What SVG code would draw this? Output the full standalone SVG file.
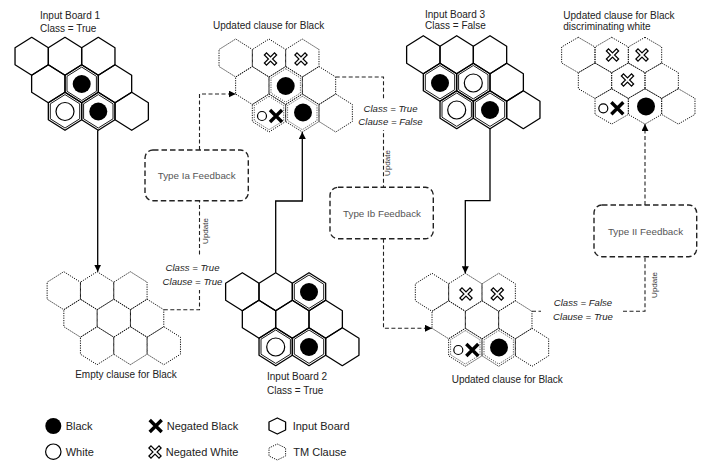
<svg xmlns="http://www.w3.org/2000/svg" width="718" height="462" viewBox="0 0 718 462">
<style>
.hs{fill:none;stroke:#000;stroke-width:1.3;stroke-linejoin:round}
.hi{fill:none;stroke:#000;stroke-width:0.9}
.hd{fill:none;stroke:#111;stroke-width:1;stroke-dasharray:1.2 1.2}
.hdi{fill:none;stroke:#111;stroke-width:0.7;stroke-dasharray:1.2 1.2}
.bk{fill:#000}
.wh{fill:#fff;stroke:#000;stroke-width:1.2}
.lbl{font-family:"Liberation Sans",Arial,sans-serif;font-size:10px;fill:#222}
.it{font-family:"Liberation Sans",Arial,sans-serif;font-size:9.6px;font-style:italic;fill:#222;text-anchor:middle}
.upd{font-family:"Liberation Sans",Arial,sans-serif;font-size:8px;fill:#333;text-anchor:middle}
.fbt{font-family:"Liberation Sans",Arial,sans-serif;font-size:9.8px;fill:#555;text-anchor:middle}
.leg{font-family:"Liberation Sans",Arial,sans-serif;font-size:11px;fill:#222}
.solid{fill:none;stroke:#000;stroke-width:1.3}
.dash{fill:none;stroke:#222;stroke-width:1.1;stroke-dasharray:4 2.5}
.box{fill:none;stroke:#222;stroke-width:1.4;stroke-dasharray:5.5 3}
.bg{fill:#fff}
</style>
<defs>
<path id="hx" d="M0,-19L16.67,-8.5L16.67,8.5L0,19L-16.67,8.5L-16.67,-8.5Z"/>
<path id="hxi" d="M0,-16.7L14.7,-7.5L14.7,7.5L0,16.7L-14.7,7.5L-14.7,-7.5Z"/>
<path id="hxs" d="M0,-17.7L16.67,-8L16.67,8L0,17.7L-16.67,8L-16.67,-8Z"/>
<path id="hxl" d="M0,-8L8.3,-4L8.3,4L0,8L-8.3,4L-8.3,-4Z"/>
<g id="xo"><path d="M-5.5,-5.5L5.5,5.5M5.5,-5.5L-5.5,5.5" stroke="#000" stroke-width="4.2" fill="none"/><path d="M-4.6,-4.6L4.6,4.6M4.6,-4.6L-4.6,4.6" stroke="#fff" stroke-width="1.8" fill="none"/></g>
<g id="xb"><path d="M-6,-6L6,6M6,-6L-6,6" stroke="#000" stroke-width="3.4" fill="none"/></g>
<marker id="ah" viewBox="0 0 10 10" refX="10" refY="5" markerWidth="7" markerHeight="7" markerUnits="userSpaceOnUse" orient="auto"><path d="M0,0L10,5L0,10Z" fill="#000"/></marker>
</defs>

<g id="connectors">
<path class="solid" d="M97.7,130.3V271.7" marker-end="url(#ah)"/>
<path class="solid" d="M275.7,272.7V201H302.3V132" marker-end="url(#ah)"/>
<path class="solid" d="M490,128.7V200.7H465.3V273.3" marker-end="url(#ah)"/>
<path class="dash" d="M163.8,309.7H199.5V200.7"/>
<path class="dash" d="M199.5,150V94H235.7" marker-end="url(#ah)"/>
<path class="dash" d="M335.7,77H383.5V187.3"/>
<path class="dash" d="M383.5,238.7V328.3H432" marker-end="url(#ah)"/>
<path class="dash" d="M532,311.3H645V256.7"/>
<path class="dash" d="M645,205V124.1" marker-end="url(#ah)"/>
<rect class="bg" x="160" y="257" width="66" height="33"/>
<text class="it" x="192.5" y="271">Class = True</text>
<text class="it" x="192.5" y="285">Clause = True</text>
<rect class="bg" x="358" y="99" width="66" height="31"/>
<text class="it" x="390.5" y="111.5">Class = True</text>
<text class="it" x="390.5" y="125">Clause = False</text>
<rect class="bg" x="541" y="295" width="80" height="29"/>
<text class="it" x="583" y="306">Class = False</text>
<text class="it" x="583" y="319.5">Clause = True</text>
<text class="upd" transform="translate(207.5,231) rotate(-90)">Update</text>
<text class="upd" transform="translate(390,163) rotate(-90)">Update</text>
<text class="upd" transform="translate(656.5,285) rotate(-90)">Update</text>
</g>

<g id="fb-ia">
<rect class="box" x="145" y="150" width="103.3" height="50.7" rx="8"/>
<text class="fbt" x="196.7" y="178.5">Type Ia Feedback</text>
</g>
<g id="fb-ib">
<rect class="box" x="330" y="187.3" width="103.3" height="51.4" rx="8"/>
<text class="fbt" x="382" y="216.5">Type Ib Feedback</text>
</g>
<g id="fb-ii">
<rect class="box" x="594" y="205" width="102.7" height="51.7" rx="8"/>
<text class="fbt" x="645.5" y="235">Type II Feedback</text>
</g>

<g id="board1">
<text class="lbl" x="40" y="19">Input Board 1</text>
<text class="lbl" x="40" y="32">Class = True</text>
<use href="#hx" class="hs" x="31.7" y="56.3"/><use href="#hx" class="hs" x="65" y="56.3"/><use href="#hx" class="hs" x="98.3" y="56.3"/>
<use href="#hx" class="hs" x="48.3" y="83.8"/><use href="#hx" class="hs" x="81.7" y="83.8"/><use href="#hx" class="hs" x="115" y="83.8"/>
<use href="#hx" class="hs" x="65" y="111.3"/><use href="#hx" class="hs" x="98.3" y="111.3"/><use href="#hx" class="hs" x="131.7" y="111.3"/>
<use href="#hxi" class="hi" x="81.7" y="83.8"/><use href="#hxi" class="hi" x="65" y="111.3"/><use href="#hxi" class="hi" x="98.3" y="111.3"/>
<circle class="bk" cx="81.7" cy="84" r="9"/>
<circle class="wh" cx="65" cy="111.5" r="9"/>
<circle class="bk" cx="98.3" cy="111.5" r="9"/>
</g>

<g id="clause-empty">
<use href="#hx" class="hd" x="63.8" y="290.7"/><use href="#hx" class="hd" x="97.1" y="290.7"/><use href="#hx" class="hd" x="130.4" y="290.7"/>
<use href="#hx" class="hd" x="80.5" y="318.2"/><use href="#hx" class="hd" x="113.8" y="318.2"/><use href="#hx" class="hd" x="147.1" y="318.2"/>
<use href="#hx" class="hd" x="97.1" y="345.7"/><use href="#hx" class="hd" x="130.4" y="345.7"/><use href="#hx" class="hd" x="163.8" y="345.7"/>
<text class="lbl" x="126" y="377.5" text-anchor="middle">Empty clause for Black</text>
</g>

<g id="clause-ia">
<text class="lbl" x="213" y="28.5">Updated clause for Black</text>
<use href="#hx" class="hd" x="235.7" y="58"/><use href="#hx" class="hd" x="269" y="58"/><use href="#hx" class="hd" x="302.3" y="58"/>
<use href="#hx" class="hd" x="252.3" y="85.5"/><use href="#hx" class="hd" x="285.7" y="85.5"/><use href="#hx" class="hd" x="319" y="85.5"/>
<use href="#hx" class="hd" x="269" y="113"/><use href="#hx" class="hd" x="302.3" y="113"/><use href="#hx" class="hd" x="335.7" y="113"/>
<use href="#hxi" class="hdi" x="285.7" y="85.5"/><use href="#hxi" class="hdi" x="269" y="113"/><use href="#hxi" class="hdi" x="302.3" y="113"/>
<use href="#xo" x="270.5" y="59"/><use href="#xo" x="301" y="59"/>
<circle class="bk" cx="285.7" cy="86" r="9"/>
<circle class="wh" cx="262" cy="116" r="4.5"/>
<use href="#xb" x="276" y="116"/>
<circle class="bk" cx="303" cy="112.5" r="9"/>
</g>

<g id="board2">
<use href="#hx" class="hs" x="242.3" y="291.7"/><use href="#hx" class="hs" x="275.7" y="291.7"/><use href="#hx" class="hs" x="309" y="291.7"/>
<use href="#hx" class="hs" x="259" y="319.2"/><use href="#hx" class="hs" x="292.3" y="319.2"/><use href="#hx" class="hs" x="325.7" y="319.2"/>
<use href="#hx" class="hs" x="275.7" y="346.7"/><use href="#hx" class="hs" x="309" y="346.7"/><use href="#hx" class="hs" x="342.3" y="346.7"/>
<use href="#hxi" class="hi" x="309" y="291.7"/><use href="#hxi" class="hi" x="275.7" y="346.7"/><use href="#hxi" class="hi" x="309" y="346.7"/>
<circle class="bk" cx="309" cy="292" r="9"/>
<circle class="wh" cx="275.7" cy="347" r="9"/>
<circle class="bk" cx="309" cy="347" r="9"/>
<text class="lbl" x="267" y="380">Input Board 2</text>
<text class="lbl" x="267" y="394">Class = True</text>
</g>

<g id="board3">
<text class="lbl" x="425" y="17.5">Input Board 3</text>
<text class="lbl" x="425" y="29">Class = False</text>
<use href="#hx" class="hs" x="423.3" y="54.7"/><use href="#hx" class="hs" x="456.7" y="54.7"/><use href="#hx" class="hs" x="490" y="54.7"/>
<use href="#hx" class="hs" x="440" y="82.2"/><use href="#hx" class="hs" x="473.3" y="82.2"/><use href="#hx" class="hs" x="506.7" y="82.2"/>
<use href="#hx" class="hs" x="456.7" y="109.7"/><use href="#hx" class="hs" x="490" y="109.7"/><use href="#hx" class="hs" x="523.3" y="109.7"/>
<use href="#hxi" class="hi" x="440" y="82.2"/><use href="#hxi" class="hi" x="473.3" y="82.2"/><use href="#hxi" class="hi" x="456.7" y="109.7"/><use href="#hxi" class="hi" x="490" y="109.7"/>
<circle class="bk" cx="440" cy="83" r="9"/>
<circle class="wh" cx="473.3" cy="83" r="9"/>
<circle class="wh" cx="456.7" cy="110" r="9"/>
<circle class="bk" cx="490" cy="110" r="9"/>
</g>

<g id="clause-ib">
<use href="#hx" class="hd" x="432" y="292.3"/><use href="#hx" class="hd" x="465.3" y="292.3"/><use href="#hx" class="hd" x="498.7" y="292.3"/>
<use href="#hx" class="hd" x="448.7" y="319.8"/><use href="#hx" class="hd" x="482" y="319.8"/><use href="#hx" class="hd" x="515.3" y="319.8"/>
<use href="#hx" class="hd" x="465.3" y="347.3"/><use href="#hx" class="hd" x="498.7" y="347.3"/><use href="#hx" class="hd" x="532" y="347.3"/>
<use href="#hxi" class="hdi" x="465.3" y="347.3"/><use href="#hxi" class="hdi" x="498.7" y="347.3"/>
<use href="#xo" x="466" y="294"/><use href="#xo" x="497.3" y="294"/>
<circle class="wh" cx="458.3" cy="350" r="4.5"/>
<use href="#xb" x="472.3" y="350"/>
<circle class="bk" cx="499" cy="347.5" r="9"/>
<text class="lbl" x="451.7" y="383">Updated clause for Black</text>
</g>

<g id="clause-ii">
<text class="lbl" x="563.3" y="18.5">Updated clause for Black</text>
<text class="lbl" x="563.3" y="29.5">discriminating white</text>
<use href="#hxs" class="hd" x="578.3" y="55"/><use href="#hxs" class="hd" x="611.7" y="55"/><use href="#hxs" class="hd" x="645" y="55"/>
<use href="#hxs" class="hd" x="595" y="80.7"/><use href="#hxs" class="hd" x="628.3" y="80.7"/><use href="#hxs" class="hd" x="661.7" y="80.7"/>
<use href="#hxs" class="hd" x="611.7" y="106.4"/><use href="#hxs" class="hd" x="645" y="106.4"/><use href="#hxs" class="hd" x="678.3" y="106.4"/>
<use href="#xo" x="612.5" y="55"/><use href="#xo" x="642" y="55"/><use href="#xo" x="627.5" y="80"/>
<circle class="wh" cx="603.3" cy="108.3" r="4.5"/>
<use href="#xb" x="617.3" y="108.3"/>
<circle class="bk" cx="646" cy="106.4" r="9"/>
</g>

<g id="legend">
<circle class="bk" cx="53.3" cy="426" r="8"/>
<text class="leg" x="65.7" y="430">Black</text>
<circle class="wh" cx="53.3" cy="451.7" r="7.7"/>
<text class="leg" x="65.7" y="455.7">White</text>
<use href="#xb" x="155.7" y="426"/>
<text class="leg" x="166.7" y="430">Negated Black</text>
<use href="#xo" x="155" y="452"/>
<text class="leg" x="165.7" y="455.7">Negated White</text>
<use href="#hxl" class="hs" x="277.3" y="426"/>
<text class="leg" x="292.7" y="430">Input Board</text>
<use href="#hxl" class="hd" x="277.3" y="452"/>
<text class="leg" x="293.3" y="455.7">TM Clause</text>
</g>
</svg>
